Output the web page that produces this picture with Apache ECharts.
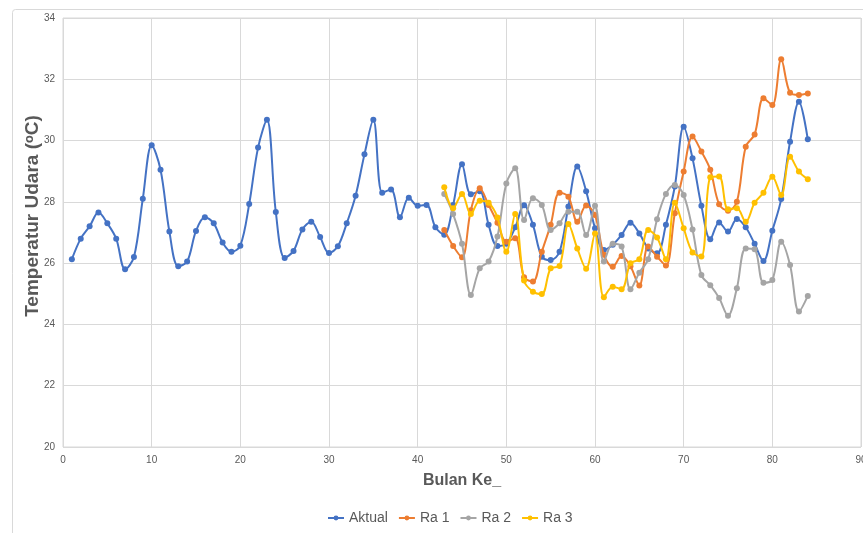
<!DOCTYPE html>
<html>
<head>
<meta charset="utf-8">
<script src="https://cdn.jsdelivr.net/npm/echarts@6/dist/echarts.min.js"></script>
<style>
html,body{margin:0;padding:0;background:#fff;}
#c{width:863px;height:533px;}
</style>
</head>
<body>
<div id="c"></div>
<script>
var monthsAktual = [];
for (var i = 1; i <= 84; i++) monthsAktual.push(i);
var monthsRa = [];
for (var j = 43; j <= 84; j++) monthsRa.push(j);

var aktual = [26.13,26.8,27.2,27.65,27.3,26.8,25.8,26.2,28.1,29.85,
  29.05,27.03,25.9,26.05,27.05,27.5,27.3,26.67,26.37,26.57,
  27.93,29.77,30.68,27.67,26.17,26.4,27.1,27.35,26.85,26.33,
  26.55,27.3,28.2,29.55,30.68,28.3,28.4,27.5,28.13,27.87,
  27.9,27.17,26.93,27.9,29.23,28.25,28.35,27.25,26.56,26.63,
  27.17,27.89,27.25,26.21,26.1,26.37,27.85,29.15,28.35,27.14,
  26.43,26.6,26.92,27.32,26.97,26.48,26.32,27.25,28.5,30.45,
  29.42,27.87,26.78,27.33,27.03,27.44,27.17,26.63,26.07,27.06,
  28.09,29.96,31.27,30.04];

var ra1 = [27.08,26.56,26.19,27.73,28.44,27.9,27.32,26.7,26.81,25.54,
  25.4,26.37,27.25,28.3,28.17,27.35,27.88,27.57,26.27,25.88,
  26.23,25.9,25.27,26.54,26.21,25.92,27.63,28.99,30.13,29.64,
  29.05,27.92,27.71,28.0,29.8,30.2,31.38,31.16,32.65,31.56,
  31.49,31.54];

var ra2 = [28.26,27.6,26.63,24.96,25.83,26.05,26.87,28.6,29.1,27.41,
  28.12,27.9,27.08,27.3,27.68,27.68,26.92,27.87,26.05,26.63,
  26.54,25.15,25.69,26.13,27.43,28.26,28.55,28.22,27.1,25.61,
  25.28,24.86,24.28,25.18,26.48,26.45,25.36,25.45,26.7,25.94,
  24.42,24.93];

var ra3 = [28.48,27.79,28.26,27.6,28.04,27.97,27.49,26.37,27.6,25.43,
  25.07,24.99,25.83,25.91,27.28,26.48,25.82,26.97,24.89,25.23,
  25.15,26.0,26.13,27.08,26.84,26.13,27.97,27.14,26.35,26.22,
  28.8,28.83,27.76,27.79,27.35,27.97,28.3,28.82,28.22,29.47,
  28.99,28.74];

var seriesNames = ['Aktual','Ra 1','Ra 2','Ra 3'];
var colors = ['#4472C4','#ED7D31','#A5A5A5','#FFC000'];
var yAxisTitle = 'Temperatur Udara (ᵒC)';
var xAxisTitle = 'Bulan Ke_';

function zip(xs, ys){ return ys.map(function(v,k){ return [xs[k], v]; }); }

var seriesData = [zip(monthsAktual, aktual), zip(monthsRa, ra1), zip(monthsRa, ra2), zip(monthsRa, ra3)];

var FONT = "'Liberation Sans Narrow', 'Liberation Sans', sans-serif";

var chart = echarts.init(document.getElementById('c'), null, {renderer:'canvas'});
chart.setOption({
  animation: false,
  backgroundColor: '#ffffff',
  color: colors,
  graphic: [{
    type: 'rect', left: 10, top: 7, shape: {x:0, y:0, width: 880, height: 560, r: 3},
    style: {fill: 'none', stroke: '#D9D9D9', lineWidth: 1}, silent: true
  }, {
    type: 'text', x: 33, y: 216, rotation: Math.PI / 2,
    style: {text: yAxisTitle, fill: '#595959', fontSize: 19, fontWeight: 'bold',
      fontFamily: "'Liberation Sans', sans-serif", align: 'center', verticalAlign: 'middle'},
    silent: true
  }],
  grid: {left: 63, right: 2, top: 18, bottom: 86, show: true, borderColor: '#D9D9D9', borderWidth: 1,
    containLabel: false, outerBoundsMode: 'none'},
  legend: {
    data: seriesNames, bottom: 3, left: 322, itemGap: 10, itemWidth: 16, itemHeight: 6,
    textStyle: {color: '#595959', fontSize: 14, fontFamily: FONT}
  },
  xAxis: {
    type: 'value', min: 0, max: 90, interval: 10,
    name: xAxisTitle, nameLocation: 'middle', nameGap: 26,
    nameTextStyle: {color: '#595959', fontSize: 16, fontWeight: 'bold', fontFamily: FONT},
    axisLine: {show: false}, axisTick: {show: false},
    axisLabel: {color: '#595959', fontSize: 10, fontFamily: FONT, margin: 8},
    splitLine: {show: true, lineStyle: {color: '#D9D9D9', width: 1}}
  },
  yAxis: {
    type: 'value', min: 20, max: 34, interval: 2,
    axisLine: {show: false}, axisTick: {show: false},
    axisLabel: {color: '#595959', fontSize: 10, fontFamily: FONT, margin: 8},
    splitLine: {show: true, lineStyle: {color: '#D9D9D9', width: 1}}
  },
  series: seriesNames.map(function(n, k){
    return {
      name: n, type: 'line', data: seriesData[k], smooth: 0.35,
      symbol: 'circle', symbolSize: 6, showSymbol: true,
      lineStyle: {width: 2, color: colors[k]},
      itemStyle: {color: colors[k]},
      z: 2 + k
    };
  })
});
</script>
</body>
</html>
